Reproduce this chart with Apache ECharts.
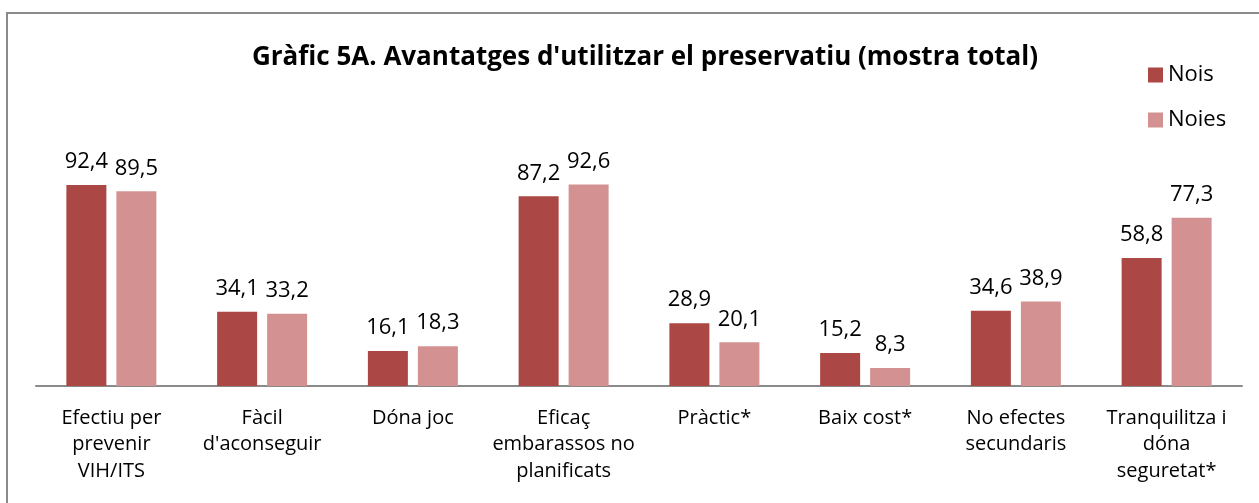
<!DOCTYPE html>
<html><head><meta charset="utf-8">
<script src="https://cdn.jsdelivr.net/npm/echarts@6/dist/echarts.min.js"></script>
<style>html,body{margin:0;padding:0;background:#fff}#c{width:1259px;height:503px}</style>
</head><body><div id="c"></div>
<script>
const categories = ["Efectiu per\nprevenir\nVIH/ITS","Fàcil\nd'aconseguir","Dóna joc","Eficaç\nembarassos no\nplanificats","Pràctic*","Baix cost*","No efectes\nsecundaris","Tranquilitza i\ndóna\nseguretat*"];
const nois = [92.4,34.1,16.1,87.2,28.9,15.2,34.6,58.8];
const noies = [89.5,33.2,18.3,92.6,20.1,8.3,38.9,77.3];
const FONT = "Open Sans";
const chart = echarts.init(document.getElementById('c'));
const lbl = {show:true,position:'top',distance:12,fontFamily:FONT,fontSize:22,color:'#000',
  formatter:p=>String(p.value).replace('.',',')};
chart.setOption({
  animation:false,
  graphic:[{type:'rect',shape:{x:7,y:13,width:1300,height:600},style:{fill:'none',stroke:'#8a8a8a',lineWidth:2},z:-1}],
  title:{text:"Gràfic 5A. Avantatges d'utilitzar el preservatiu (mostra total)",left:640,textAlign:'center',top:40,
    textStyle:{fontFamily:FONT,fontSize:26,fontWeight:'bold',color:'#000'}},
  legend:{orient:'vertical',left:1143,top:55,itemWidth:15,itemHeight:15,itemGap:15,icon:'rect',
    textStyle:{fontFamily:FONT,fontSize:22,color:'#000',lineHeight:30},data:['Nois','Noies']},
  grid:{left:36,right:17,top:168.5,bottom:117},
  xAxis:{type:'category',data:categories,axisTick:{show:false},
    axisLine:{lineStyle:{color:'#8a8a8a',width:2}},
    axisLabel:{interval:0,margin:19,fontFamily:FONT,fontSize:20,color:'#000',lineHeight:26.5,align:'center'}},
  yAxis:{type:'value',min:0,max:100,show:false,splitLine:{show:false}},
  series:[
    {name:'Nois',type:'bar',data:nois,barWidth:40,barGap:'25%',itemStyle:{color:'#AB4744'},label:lbl},
    {name:'Noies',type:'bar',data:noies,barWidth:40,itemStyle:{color:'#D39291'},label:lbl}
  ]
});
</script></body></html>
